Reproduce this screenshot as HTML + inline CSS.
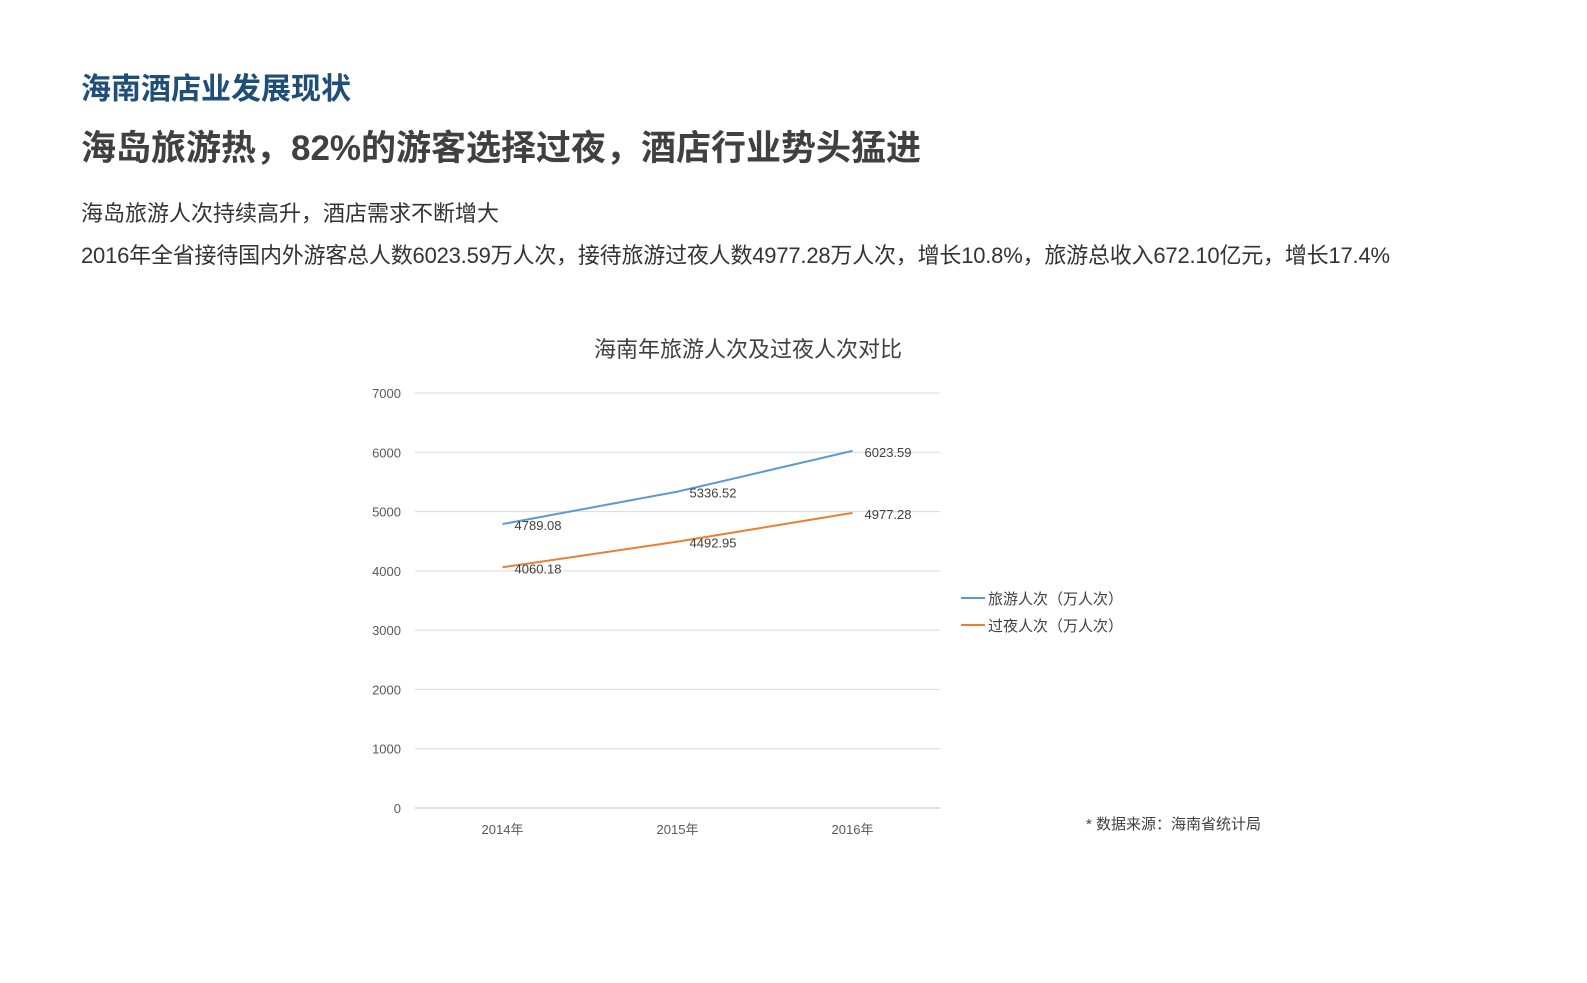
<!DOCTYPE html>
<html><head><meta charset="utf-8">
<style>
body{margin:0;width:1587px;height:983px;background:#fff;overflow:hidden;font-family:"Liberation Sans","Noto Sans CJK SC",sans-serif;}
.t{position:absolute;left:81px;white-space:nowrap;}
</style></head><body>
<div class="t" style="top:64px;font-size:30px;font-weight:bold;color:#1f4e79;">海南酒店业发展现状</div>
<div class="t" style="top:120px;font-size:35px;font-weight:bold;color:#404040;">海岛旅游热，82%的游客选择过夜，酒店行业势头猛进</div>
<div class="t" style="top:196px;font-size:22px;color:#333;">海岛旅游人次持续高升，酒店需求不断增大</div>
<div class="t" style="top:238px;font-size:22px;color:#333;letter-spacing:-0.2px;">2016年全省接待国内外游客总人数6023.59万人次，接待旅游过夜人数4977.28万人次，增长10.8%，旅游总收入672.10亿元，增长17.4%</div>
<svg id="chart" width="1587" height="983" style="position:absolute;left:0;top:0" font-family="Liberation Sans, Noto Sans CJK SC, sans-serif">
<text x="748" y="357" text-anchor="middle" font-size="22" fill="#404040">海南年旅游人次及过夜人次对比</text>
<text x="1086" y="829" font-size="15" fill="#404040">* 数据来源：海南省统计局</text>
<g id="legend">
<line x1="961" y1="598" x2="985" y2="598" stroke="#5b9bd5" stroke-width="2"/>
<text x="988" y="604" font-size="15" fill="#404040">旅游人次（万人次）</text>
<line x1="961" y1="625" x2="985" y2="625" stroke="#ed7d31" stroke-width="2"/>
<text x="988" y="631" font-size="15" fill="#404040">过夜人次（万人次）</text>
</g>
</svg>
<script>
const categories=["2014年","2015年","2016年"];
const tourists=[4789.08,5336.52,6023.59];
const overnight=[4060.18,4492.95,4977.28];
const yTicks=[0,1000,2000,3000,4000,5000,6000,7000];
const svg=document.getElementById('chart');
const NS='http://www.w3.org/2000/svg';
const yMax=7000,y0=808,y1=393,xL=415,xR=940;
const ys=v=>y0-(v/yMax)*(y0-y1);
const xs=i=>xL+(xR-xL)*(i+0.5)/categories.length;
function mk(t,a){const e=document.createElementNS(NS,t);for(const k in a)e.setAttribute(k,a[k]);svg.appendChild(e);return e;}
yTicks.forEach(v=>{
 const l=mk('line',{x1:xL,x2:xR,y1:ys(v),y2:ys(v),stroke:v===0?'#bfbfbf':'#d9d9d9','stroke-width':1});
 
 
 const t=mk('text',{x:401,y:ys(v)+5,'text-anchor':'end','font-size':13,fill:'#595959'});
 t.textContent=v;
 
 
});
categories.forEach((c,i)=>{
 const t=mk('text',{x:xs(i),y:834,'text-anchor':'middle','font-size':13,fill:'#595959'});
 t.textContent=c;
 
 
});
function series(vals,color,name){
 let d='';
 vals.forEach((v,i)=>{d+=(i?'L':'M')+xs(i)+','+ys(v);});
 const p=mk('path',{d:d,fill:'none',stroke:color,'stroke-width':2});
 
 
 vals.forEach((v,i)=>{
  const t=mk('text',{x:xs(i)+12,y:ys(v)+6,'font-size':13,fill:'#404040'});
  t.textContent=v.toFixed(2);
  
  
 });
}
series(tourists,'#5b9bd5','tourists');
series(overnight,'#ed7d31','overnight');
</script>
</body></html>
